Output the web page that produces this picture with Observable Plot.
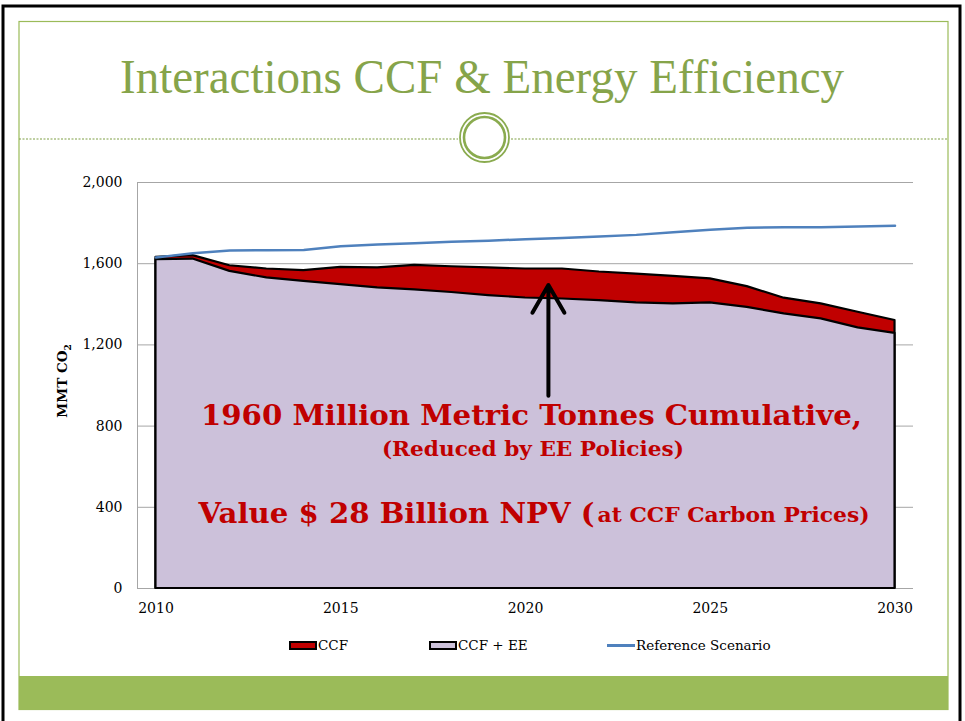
<!DOCTYPE html>
<html>
<head>
<meta charset="utf-8">
<script src="https://cdn.jsdelivr.net/npm/d3@7"></script>
<script src="https://cdn.jsdelivr.net/npm/@observablehq/plot@0.6"></script>
<style>
  html, body { margin: 0; padding: 0; background: #fff; }
  #page { position: relative; width: 965px; height: 721px; overflow: hidden; background: #fff; }
  #deco { position: absolute; left: 0; top: 0; }
  #chart { position: absolute; left: 22px; top: 170px; }
  #legend { position: absolute; top: 636px; left: 0; width: 965px; height: 20px; font-family: "DejaVu Serif", serif; font-size: 13.5px; color: #000; }
  .lg { position: absolute; top: 0; display: flex; align-items: center; height: 18px; }
  .sw { width: 24px; height: 5px; border: 2px solid #000; margin-right: 1px; }
  .ln { width: 28px; height: 3px; background: #4f81bd; margin-right: 1px; }
</style>
</head>
<body>
<div id="page">
  <svg id="deco" width="965" height="721"></svg>
  <div id="chart"></div>
  <div id="legend">
    <div class="lg" style="left:289px"><div class="sw" style="background:#c00000"></div><span>CCF</span></div>
    <div class="lg" style="left:429px"><div class="sw" style="background:#ccc1da"></div><span>CCF + EE</span></div>
    <div class="lg" style="left:607px"><div class="ln"></div><span>Reference Scenario</span></div>
  </div>
</div>
<script>
// ---- data ----
const years = [2010,2011,2012,2013,2014,2015,2016,2017,2018,2019,2020,2021,2022,2023,2024,2025,2026,2027,2028,2029,2030];
const referenceScenario = [1630,1652,1665,1666,1668,1686,1694,1701,1708,1713,1721,1726,1734,1742,1755,1767,1777,1780,1780,1783,1787];
const ccf = [1631,1640,1590,1574,1566,1582,1579,1592,1585,1579,1574,1574,1559,1549,1538,1525,1487,1430,1402,1361,1320];
const ccfPlusEE = [1620,1623,1562,1530,1513,1497,1481,1471,1458,1443,1431,1426,1418,1407,1402,1407,1385,1353,1328,1284,1257];
const yTicks = [0,400,800,1200,1600,2000];
const xTicks = [2010,2015,2020,2025,2030];
const titleText = "Interactions CCF & Energy Efficiency";
const note1 = "1960 Million Metric Tonnes Cumulative,";
const note2 = "(Reduced by EE Policies)";
const note3a = "Value $ 28 Billion NPV (";
const note3b = "at CCF Carbon Prices)";

const rows = years.map((y, i) => ({year: y, ref: referenceScenario[i], ccf: ccf[i], ee: ccfPlusEE[i]}));

// ---- slide decoration ----
const green = "#9bbb59";
const deco = d3.select("#deco");
deco.append("rect").attr("x", 3).attr("y", 6).attr("width", 957).attr("height", 730)
  .attr("fill", "none").attr("stroke", "#000").attr("stroke-width", 3);
deco.append("rect").attr("x", 19).attr("y", 21.5).attr("width", 929).attr("height", 688)
  .attr("fill", "none").attr("stroke", green).attr("stroke-width", 1.2);
deco.append("rect").attr("x", 19).attr("y", 676).attr("width", 929).attr("height", 33).attr("fill", green);
deco.append("line").attr("x1", 19).attr("x2", 458).attr("y1", 139).attr("y2", 139)
  .attr("stroke", "#7f9f45").attr("stroke-dasharray", "2,1.5");
deco.append("line").attr("x1", 511).attr("x2", 948).attr("y1", 139).attr("y2", 139)
  .attr("stroke", "#7f9f45").attr("stroke-dasharray", "2,1.5");
deco.append("circle").attr("cx", 484.5).attr("cy", 137.5).attr("r", 24.5)
  .attr("fill", "#fff").attr("stroke", "#8aab4f").attr("stroke-width", 1.8);
deco.append("circle").attr("cx", 484.5).attr("cy", 137.5).attr("r", 20.5)
  .attr("fill", "none").attr("stroke", "#8aab4f").attr("stroke-width", 2.6);
deco.append("text").attr("x", 482).attr("y", 93).attr("text-anchor", "middle")
  .attr("font-family", "Liberation Serif, serif").attr("font-size", 48)
  .attr("fill", "#86a44a").attr("textLength", 724).attr("lengthAdjust", "spacingAndGlyphs")
  .text(titleText);
const yl = deco.append("text").attr("transform", "translate(67,381) rotate(-90)")
  .attr("text-anchor", "middle").attr("font-family", "DejaVu Serif, serif")
  .attr("font-weight", "bold").attr("font-size", 13.5).attr("fill", "#000");
yl.append("tspan").text("MMT CO");
yl.append("tspan").attr("font-size", 9).attr("dy", 4).text("2");

// ---- chart ----
const red = "#c00000";
const chart = Plot.plot({
  width: 923,
  height: 450,
  marginLeft: 115,
  marginRight: 32,
  marginTop: 12,
  marginBottom: 32,
  style: {background: "transparent", fontFamily: "DejaVu Serif, serif", fontSize: "14px", color: "#000", overflow: "visible"},
  x: {domain: [2009.5, 2030.5], ticks: xTicks, tickFormat: d => String(d), tickSize: 0, tickPadding: 15, label: null},
  y: {domain: [0, 2000], ticks: yTicks, tickFormat: d3.format(","), tickSize: 0, tickPadding: 15, label: null},
  marks: [
    Plot.gridY(yTicks, {stroke: "#a6a6a6", strokeOpacity: 1, strokeWidth: 1}),
    Plot.ruleX([2009.5], {stroke: "#a6a6a6", strokeWidth: 1}),
    Plot.areaY(rows, {x: "year", y: "ccf", fill: red, stroke: "#000", strokeWidth: 2.2, strokeLinejoin: "round"}),
    Plot.areaY(rows, {x: "year", y: "ee", fill: "#ccc1da", stroke: "#000", strokeWidth: 2.2, strokeLinejoin: "round"}),
    Plot.lineY(rows, {x: "year", y: "ref", stroke: "#4f81bd", strokeWidth: 2.5}),
    Plot.arrow([0], {x1: 2020.62, y1: 950, x2: 2020.62, y2: 1495, stroke: "#000", strokeWidth: 4, headLength: 12, bend: false}),
    Plot.text([note1], {x: 2020.16, y: 852, text: d => d, fill: red, fontWeight: "bold", fontSize: 28, fontFamily: "DejaVu Serif, serif"}),
    Plot.text([note2], {x: 2020.2, y: 685, text: d => d, fill: red, fontWeight: "bold", fontSize: 19.5, fontFamily: "DejaVu Serif, serif"}),
    Plot.text([note3a], {x: 2021.87, y: 365, text: d => d, textAnchor: "end", fill: red, fontWeight: "bold", fontSize: 28, fontFamily: "DejaVu Serif, serif"}),
    Plot.text([note3b], {x: 2021.95, y: 360, text: d => d, textAnchor: "start", fill: red, fontWeight: "bold", fontSize: 20, fontFamily: "DejaVu Serif, serif"})
  ]
});
document.getElementById("chart").appendChild(chart);
// stretch annotation text to the reference widths
const fit = new Map([[note1, 661], [note2, 302], [note3a, 396], [note3b, 272]]);
d3.select(chart).selectAll("text").each(function() {
  const w = fit.get(this.textContent);
  if (w) d3.select(this).attr("textLength", w).attr("lengthAdjust", "spacingAndGlyphs");
});
</script>
</body>
</html>
